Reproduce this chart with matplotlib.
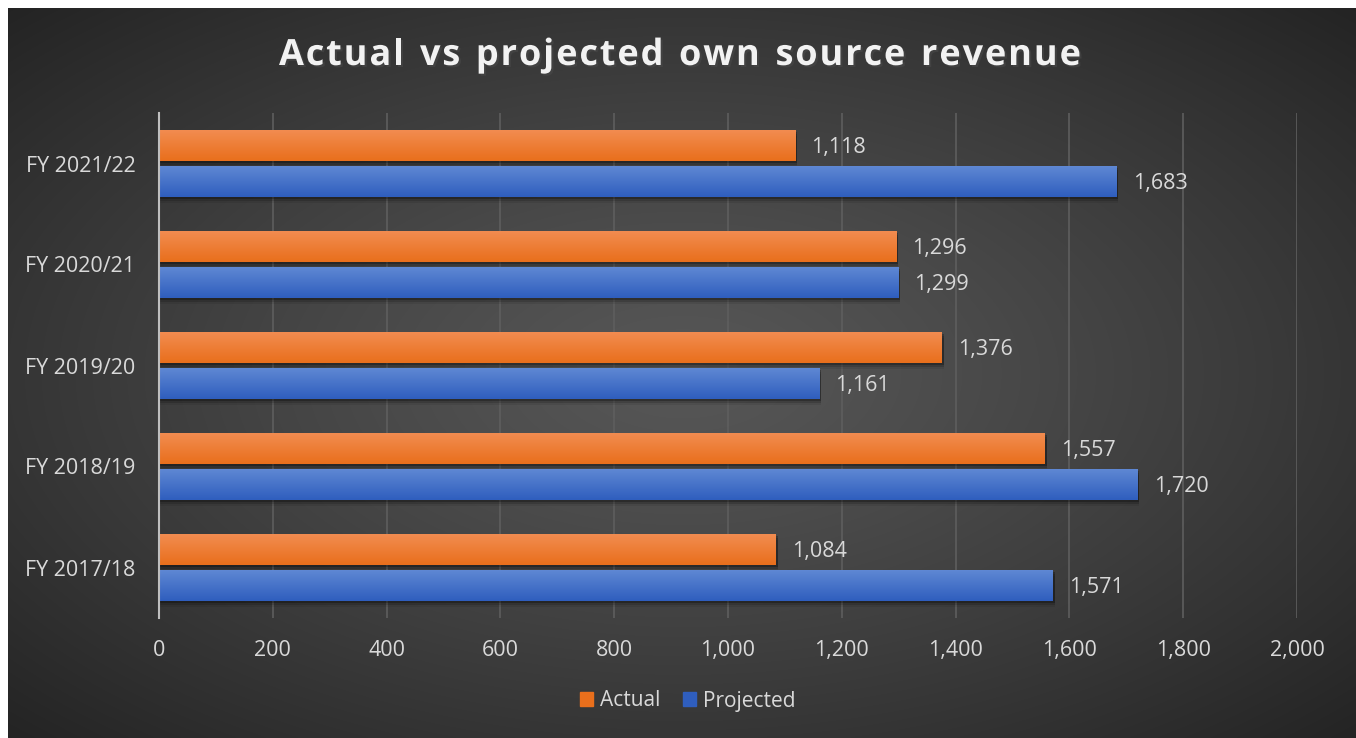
import numpy as np
import matplotlib.pyplot as plt
from matplotlib import patheffects as pe
from matplotlib.patches import Patch

categories = ['FY 2017/18', 'FY 2018/19', 'FY 2019/20', 'FY 2020/21', 'FY 2021/22']
actual = [1084, 1557, 1376, 1296, 1118]
projected = [1571, 1720, 1161, 1299, 1683]
x_ticks = [0, 200, 400, 600, 800, 1000, 1200, 1400, 1600, 1800, 2000]

W, H = 1356, 738
txt = '#D9D9D9'
font = 'Open Sans'

fig = plt.figure(figsize=(W / 100, H / 100), dpi=100, facecolor='white')

# radial gradient background, white edge left and top
bg = fig.add_axes([8 / W, 0, 1 - 8 / W, 1 - 8 / H], zorder=-10)
yy, xx = np.mgrid[0:400, 0:700]
cx, cy = 0.5 * 700, 0.5 * 400
r = np.sqrt(((xx - cx) / 700) ** 2 + ((yy - cy) / 400) ** 2) / 0.707
v = 0.34 - 0.20 * np.clip(r, 0, 1) ** 1.2
bg.imshow(np.dstack([v, v, v]), aspect='auto', extent=(0, 1, 0, 1), interpolation='bilinear')
bg.set_axis_off()

ax = fig.add_axes([159 / W, 1 - 618 / H, (1297 - 159) / W, (618 - 113) / H])
ax.set_facecolor('none')

y = np.arange(len(categories))
h = 0.31
off = 0.178


def gradient_bars(ys, vals, top, bottom):
    bars = ax.barh(ys, vals, height=h, color=bottom, zorder=3)
    grad = np.linspace(0, 1, 64)[:, None]
    c = np.array(top) + (np.array(bottom) - np.array(top)) * grad
    img = c[:, None, :]
    for b, yv, val in zip(bars, ys, vals):
        # soft shadow below the bar
        for k, a in [(0.02, 0.25), (0.04, 0.15), (0.06, 0.08)]:
            ax.barh(yv - k, val + 3, height=h, color='black', alpha=a, zorder=2, linewidth=0)
        im = ax.imshow(img, aspect='auto', extent=(0, val, yv - h / 2, yv + h / 2),
                       origin='upper', zorder=4, interpolation='bilinear')
        im.set_clip_path(b)
    return bars


orange_top, orange_bot = (242 / 255, 141 / 255, 82 / 255), (233 / 255, 111 / 255, 28 / 255)
blue_top, blue_bot = (96 / 255, 137 / 255, 212 / 255), (47 / 255, 94 / 255, 190 / 255)

gradient_bars(y + off, actual, orange_top, orange_bot)
gradient_bars(y - off, projected, blue_top, blue_bot)

fs = 15.5
for yv, a, p in zip(y, actual, projected):
    ax.text(a + 28, yv + off - 0.02, f'{a:,}', va='center', ha='left', color=txt,
            fontsize=fs, family=font, zorder=5)
    ax.text(p + 28, yv - off - 0.02, f'{p:,}', va='center', ha='left', color=txt,
            fontsize=fs, family=font, zorder=5)

ax.set_xlim(0, 2000)
ax.set_ylim(-0.5, len(categories) - 0.5)
ax.set_xticks(x_ticks)
ax.set_xticklabels([f'{t:,}' for t in x_ticks], color=txt, fontsize=fs, family=font)
ax.set_yticks(y)
ax.set_yticklabels(categories, color=txt, fontsize=fs, family=font)
ax.tick_params(length=0)
ax.tick_params(axis='x', pad=16)
ax.tick_params(axis='y', pad=17)
ax.grid(axis='x', color='#5e5e5e', linewidth=1.2, zorder=1)
ax.set_axisbelow(True)
for s in ['top', 'right', 'bottom']:
    ax.spines[s].set_visible(False)
ax.spines['left'].set_color('#BFBFBF')
ax.spines['left'].set_linewidth(1.5)
ax.spines['left'].set_zorder(6)

# title with wide letter spacing
title = 'Actual vs projected own source revenue'
tfs = 26
renderer = fig.canvas.get_renderer()
widths = []
for ch in title:
    t = fig.text(0, 0, ch if ch != ' ' else 'n', fontsize=tfs, fontweight='bold', family=font)
    bb = t.get_window_extent(renderer)
    widths.append(bb.width * (0.5 if ch == ' ' else 1.0))
    t.remove()
total = 1081 - 279
spacing = (total - sum(widths)) / (len(title) - 1)
xpos = 279
for ch, w in zip(title, widths):
    if ch != ' ':
        fig.text(xpos / W, 1 - 56 / H, ch, fontsize=tfs, fontweight='bold', family=font,
                 color='#F2F2F2', va='center', ha='left',
                 path_effects=[pe.withSimplePatchShadow(offset=(1.5, -1.5), alpha=0.6)])
    xpos += w + spacing

# legend
handles = [Patch(color=orange_bot, label='Actual'), Patch(color=blue_bot, label='Projected')]
leg = fig.legend(handles=handles, loc='center', bbox_to_anchor=(0.507, 1 - 701 / H), ncol=2,
                 frameon=False, prop={'family': font, 'size': 15}, handlelength=0.65,
                 handleheight=0.65, handletextpad=0.3, columnspacing=1.1)
for t in leg.get_texts():
    t.set_color(txt)

fig.savefig('out.png', dpi=100, facecolor='white')
